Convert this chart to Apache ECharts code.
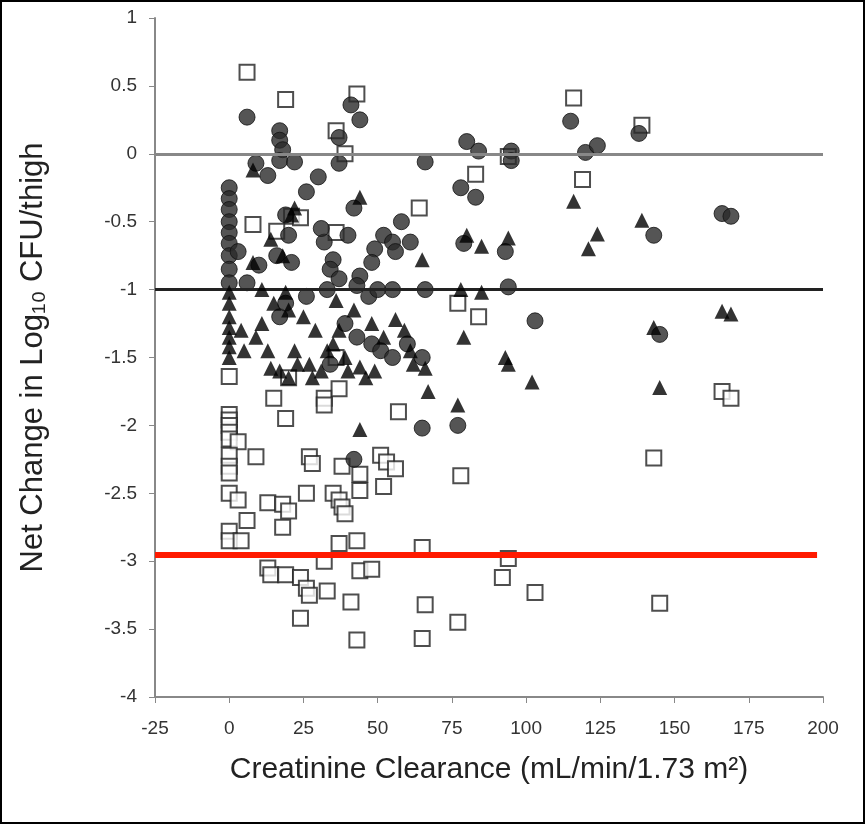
<!DOCTYPE html>
<html>
<head>
<meta charset="utf-8">
<script src="https://cdn.jsdelivr.net/npm/echarts@6/dist/echarts.min.js"></script>
<style>
html,body{margin:0;padding:0;background:#fff}
#main{width:861px;height:820px;border:2px solid #000}
</style>
</head>
<body>
<div id="main"></div>
<script>
var squares = [[6,0.6],[19,0.4],[43,0.44],[36,0.17],[39,0],[116,0.41],[139,0.21],[119,-0.19],[83,-0.15],[94,-0.02],
  [64,-0.4],[21,-0.46],[24,-0.47],[8,-0.52],[16,-0.57],[36,-0.58],[77,-1.1],[84,-1.2],[36,-1.5],
  [0,-1.64],[15,-1.8],[20,-1.65],[32,-1.8],[32,-1.85],[37,-1.73],[57,-1.9],[0,-1.92],[0,-1.96],[0,-2.0],[0,-2.05],[0,-2.1],
  [19,-1.95],[3,-2.12],[9,-2.23],[0,-2.22],[0,-2.3],[0,-2.35],[27,-2.23],[28,-2.28],[38,-2.3],[44,-2.36],[51,-2.22],
  [53,-2.27],[56,-2.32],[78,-2.37],[143,-2.24],[0,-2.5],[3,-2.55],[13,-2.57],[18,-2.58],[20,-2.63],[26,-2.5],[35,-2.5],
  [37,-2.55],[38,-2.6],[39,-2.65],[44,-2.48],[52,-2.45],[6,-2.7],[18,-2.75],[0,-2.78],[0,-2.85],[4,-2.85],[37,-2.87],
  [43,-2.85],[65,-2.9],[94,-2.98],[13,-3.05],[14,-3.1],[19,-3.1],[24,-3.12],[26,-3.2],[27,-3.25],[33,-3.22],[41,-3.3],
  [44,-3.07],[48,-3.06],[32,-3.0],[92,-3.12],[66,-3.32],[24,-3.42],[103,-3.23],[145,-3.31],[43,-3.58],[65,-3.57],
  [77,-3.45],[166,-1.75],[169,-1.8]];
var circles = [[6,0.27],[41,0.36],[44,0.25],[17,0.17],[17,0.1],[37,0.12],[18,0.03],[80,0.09],[84,0.02],[95,0.02],
  [115,0.24],[138,0.15],[120,0.01],[124,0.06],[9,-0.07],[13,-0.16],[17,-0.05],[22,-0.06],[37,-0.07],[66,-0.06],
  [78,-0.25],[83,-0.32],[95,-0.05],[26,-0.28],[30,-0.17],[0,-0.25],[0,-0.33],[0,-0.41],[0,-0.5],[0,-0.58],[0,-0.66],
  [0,-0.75],[0,-0.85],[0,-0.95],[3,-0.72],[10,-0.82],[6,-0.95],[19,-0.45],[20,-0.6],[16,-0.75],[21,-0.8],[32,-0.65],
  [31,-0.55],[42,-0.4],[40,-0.6],[49,-0.7],[48,-0.8],[44,-0.9],[52,-0.6],[55,-0.65],[58,-0.5],[61,-0.65],[56,-0.72],
  [35,-0.78],[34,-0.85],[37,-0.92],[43,-0.97],[55,-1.0],[47,-1.05],[50,-1.0],[17,-1.2],[19,-1.1],[26,-1.05],[33,-1.0],
  [39,-1.25],[43,-1.35],[48,-1.4],[51,-1.45],[55,-1.5],[60,-1.4],[34,-1.55],[42,-2.25],[65,-2.02],[77,-2.0],[65,-1.5],
  [94,-0.98],[103,-1.23],[66,-1.0],[79,-0.66],[93,-0.72],[143,-0.6],[145,-1.33],[166,-0.44],[169,-0.46]];
var triangles = [[8,-0.12],[44,-0.32],[21,-0.45],[14,-0.63],[18,-0.75],[8,-0.8],[22,-0.4],[0,-1.02],[0,-1.1],[0,-1.2],
  [0,-1.28],[0,-1.35],[0,-1.42],[0,-1.5],[4,-1.3],[9,-1.35],[13,-1.45],[5,-1.45],[11,-1.25],[15,-1.1],[20,-1.15],
  [25,-1.2],[29,-1.3],[22,-1.45],[27,-1.55],[17,-1.6],[23,-1.55],[14,-1.58],[20,-1.65],[28,-1.65],[31,-1.6],[35,-1.4],
  [39,-1.5],[40,-1.6],[44,-1.57],[46,-1.65],[49,-1.6],[52,-1.35],[56,-1.22],[59,-1.3],[61,-1.45],[62,-1.55],[37,-1.3],
  [33,-1.45],[48,-1.25],[65,-0.78],[66,-1.58],[67,-1.75],[44,-2.03],[77,-1.85],[78,-1.0],[79,-1.35],[80,-0.6],[85,-0.68],
  [85,-1.02],[94,-0.62],[93,-1.5],[94,-1.55],[102,-1.68],[116,-0.35],[121,-0.7],[124,-0.59],[139,-0.49],[143,-1.28],
  [145,-1.72],[166,-1.16],[169,-1.18],[36,-1.08],[42,-1.15],[11,-1.0],[19,-1.02]];
var refLines = [0, -1];
var redLevel = -2.95;

var myChart = echarts.init(document.getElementById('main'));
var labelFont = {color: '#333', fontSize: 19, fontFamily: 'Liberation Sans'};
myChart.setOption({
    animation: false,
    grid: {left: 153, right: 40, top: 16, bottom: 125},
    xAxis: {
        type: 'value', min: -25, max: 200, interval: 25,
        name: 'Creatinine Clearance (mL/min/1.73 m²)', nameLocation: 'middle', nameGap: 58,
        nameTextStyle: {fontSize: 30, color: '#222', fontFamily: 'Liberation Sans'},
        axisLine: {onZero: false, lineStyle: {color: '#888', width: 2}},
        axisTick: {lineStyle: {color: '#888'}, length: 6},
        axisLabel: Object.assign({margin: 22}, labelFont),
        splitLine: {show: false}
    },
    yAxis: {
        type: 'value', min: -4, max: 1, interval: 0.5,
        name: 'Net Change in Log₁₀ CFU/thigh', nameLocation: 'middle', nameGap: 106,
        nameTextStyle: {fontSize: 31, color: '#222', fontFamily: 'Liberation Sans'},
        axisLine: {onZero: false, lineStyle: {color: '#888', width: 2}},
        axisTick: {lineStyle: {color: '#888'}, length: 6},
        axisLabel: Object.assign({margin: 18}, labelFont),
        splitLine: {show: false}
    },
    series: [
        {
            type: 'scatter', data: squares, symbol: 'rect', symbolSize: 15,
            itemStyle: {color: '#fff', borderColor: '#222', borderWidth: 2}, z: 3,
            markLine: {
                silent: true, symbol: 'none', label: {show: false},
                data: [
                    {yAxis: refLines[0], lineStyle: {color: '#888', width: 3, type: 'solid'}},
                    {yAxis: refLines[1], lineStyle: {color: '#222', width: 3, type: 'solid'}},
                    [{coord: [-25, redLevel]}, {coord: [198, redLevel]}]
                ],
                lineStyle: {color: '#ff1a00', width: 6, type: 'solid'}
            }
        },
        {
            type: 'scatter', data: circles, symbol: 'circle', symbolSize: 16,
            itemStyle: {color: '#2a2a2a', borderColor: '#111', borderWidth: 1}, z: 4
        },
        {
            type: 'scatter', data: triangles, symbol: 'triangle', symbolSize: 15,
            itemStyle: {color: '#000'}, z: 5
        }
    ]
});
</script>
</body>
</html>
